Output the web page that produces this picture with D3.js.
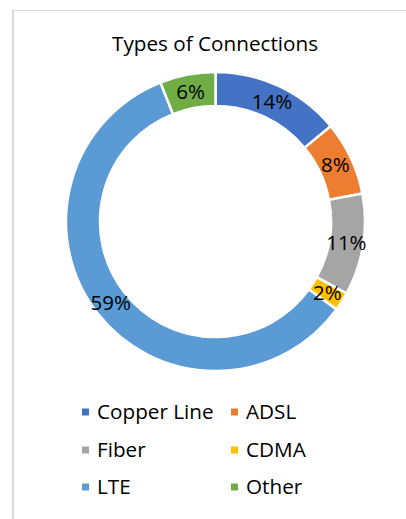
<!DOCTYPE html>
<html>
<head>
<meta charset="utf-8">
<script src="https://cdn.jsdelivr.net/npm/d3@7"></script>
<style>
html,body{margin:0;padding:0;background:#fff;}
svg{display:block;}
text{font-family:"Open Sans",Lato,sans-serif;fill:#000;}
</style>
</head>
<body>
<svg id="chart" width="406" height="519"></svg>
<script>
const title = "Types of Connections";
const categories = ["Copper Line","ADSL","Fiber","CDMA","LTE","Other"];
const values = [14, 8, 11, 2, 59, 6];
const colors = ["#4472C4","#ED7D31","#A5A5A5","#FFC000","#5B9BD5","#70AD47"];

const W = 406, H = 519;
const svg = d3.select("#chart");

// chart frame
svg.append("line").attr("x1",13).attr("x2",13).attr("y1",10).attr("y2",H)
  .attr("stroke","#d9d9d9").attr("stroke-width",2);
svg.append("line").attr("x1",12).attr("x2",W).attr("y1",10.5).attr("y2",10.5)
  .attr("stroke","#d9d9d9").attr("stroke-width",1);

svg.append("text").attr("x",215).attr("y",51).attr("text-anchor","middle")
  .style("font-size","20.7px").text(title);

const cx = 215.5, cy = 221.5, rOuter = 149.5, rInner = 115.5;
const data = categories.map((c,i)=>({cat:c, value:values[i], color:colors[i]}));
const pie = d3.pie().value(d=>d.value).sort(null);
const arc = d3.arc().innerRadius(rInner).outerRadius(rOuter);
const labelArc = d3.arc().innerRadius((rInner+rOuter)/2).outerRadius((rInner+rOuter)/2);
const total = d3.sum(values);

const g = svg.append("g").attr("transform",`translate(${cx},${cy})`);
const arcs = pie(data);
g.selectAll("path").data(arcs).join("path")
  .attr("d",arc).attr("fill",d=>d.data.color)
  .attr("stroke","#fff").attr("stroke-width",2.5).attr("stroke-linejoin","miter");
g.selectAll("text.lbl").data(arcs).join("text").attr("class","lbl")
  .attr("transform",d=>`translate(${labelArc.centroid(d)})`)
  .attr("text-anchor","middle").attr("dy","0.36em")
  .style("font-size","20.5px")
  .text(d=>Math.round(d.data.value/total*100)+"%");

// legend
const colX = [82, 231], rowY = [412, 450, 487];
const leg = svg.append("g");
data.forEach((d,i)=>{
  const x = colX[i%2], y = rowY[Math.floor(i/2)];
  leg.append("rect").attr("x",x).attr("y",y-3.5).attr("width",7).attr("height",7).attr("fill",d.color);
  leg.append("text").attr("x",x+15).attr("y",y).attr("dy","0.36em")
    .style("font-size","20.7px").text(d.cat);
});
</script>
</body>
</html>
